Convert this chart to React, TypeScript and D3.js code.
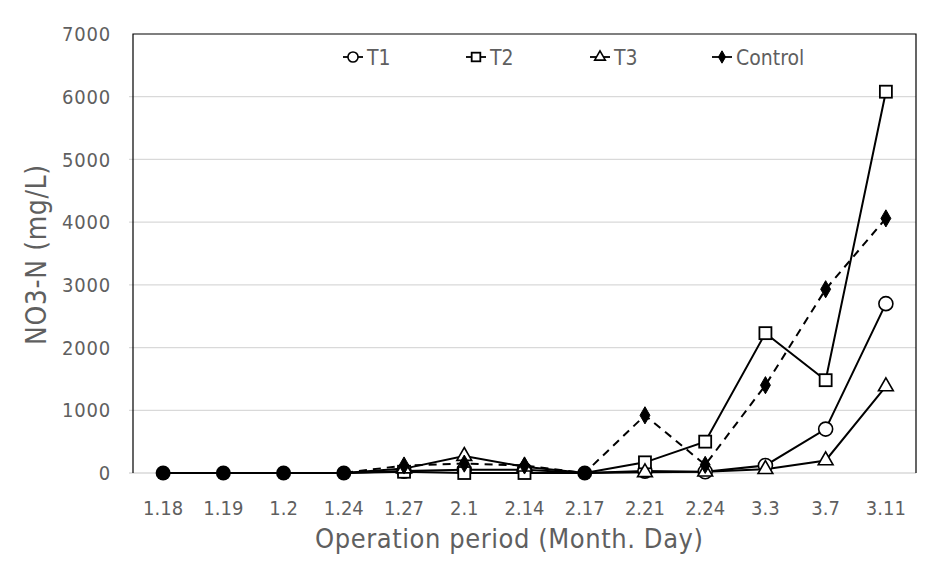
import * as d3 from 'd3';

const categories = ['1.18', '1.19', '1.2', '1.24', '1.27', '2.1', '2.14', '2.17', '2.21', '2.24', '3.3', '3.7', '3.11'];
const t1 = [0, 0, 0, 0, 30, 50, 50, 0, 30, 20, 120, 700, 2700];
const t2 = [0, 0, 0, 0, 20, 0, 0, 0, 170, 500, 2230, 1480, 6080];
const t3 = [0, 0, 0, 0, 70, 270, 100, 0, 10, 20, 60, 200, 1380];
const control = [0, 0, 0, 0, 120, 150, 120, 0, 920, 130, 1400, 2930, 4060];
const yTicks = [0, 1000, 2000, 3000, 4000, 5000, 6000, 7000];

const W = 928;
const H = 570;
const m = { left: 133, right: 916, top: 34, bottom: 473 };
const FONT = '"DejaVu Sans Condensed", "Liberation Sans Narrow", sans-serif';
const TEXT = '#5f5f5f';

type Kind = 'circle' | 'square' | 'triangle' | 'diamond';
const series: { name: string; values: number[]; kind: Kind; dashed: boolean }[] = [
  { name: 'T1', values: t1, kind: 'circle', dashed: false },
  { name: 'T2', values: t2, kind: 'square', dashed: false },
  { name: 'T3', values: t3, kind: 'triangle', dashed: false },
  { name: 'Control', values: control, kind: 'diamond', dashed: true },
];

function Marker({ kind, x, y, s = 1 }: { kind: Kind; x: number; y: number; s?: number }) {
  if (kind === 'circle') return <circle cx={x} cy={y} r={7 * s} fill="white" stroke="black" strokeWidth={1.6} />;
  if (kind === 'square') return <rect x={x - 6 * s} y={y - 6 * s} width={12 * s} height={12 * s} fill="white" stroke="black" strokeWidth={1.8} />;
  if (kind === 'triangle') {
    const p = d3.symbol(d3.symbolTriangle, 95 * s * s)();
    return <path d={p ?? ''} transform={`translate(${x},${y})`} fill="white" stroke="black" strokeWidth={1.6} />;
  }
  const p = d3.symbol(d3.symbolDiamond, 85 * s * s)();
  return <path d={p ?? ''} transform={`translate(${x},${y})`} fill="black" stroke="black" strokeWidth={1} />;
}

export default function App() {
  const x = d3.scaleBand<string>().domain(categories).range([m.left, m.right]);
  const y = d3.scaleLinear().domain([0, 7000]).range([m.bottom, m.top]);
  const cx = (c: string) => (x(c) ?? 0) + x.bandwidth() / 2;

  const line = d3.line<number>()
    .x((_, i) => cx(categories[i]))
    .y(d => y(d));

  // points where every series sits on the same value blur into one solid dot
  const together = categories.map((_, i) => series.every(s => s.values[i] === series[0].values[i]));

  const legendX = [353, 476, 600, 722];

  return (
    <svg width={W} height={H} style={{ position: 'absolute', left: 0, top: 0 }} fontFamily={FONT}>
      <rect width={W} height={H} fill="white" />
      {yTicks.map(t => (
        <g key={t}>
          {t > 0 && t < 7000 && (
            <line x1={m.left - 4} x2={m.right} y1={y(t)} y2={y(t)} stroke="#d9d9d9" strokeWidth={1.3} />
          )}
          <text x={111} y={y(t)} dy="0.36em" textAnchor="end" fontSize={20} fill={TEXT} letterSpacing={0.8}>{t}</text>
        </g>
      ))}
      <line x1={m.left - 4} x2={m.right} y1={m.bottom} y2={m.bottom} stroke="#d9d9d9" strokeWidth={1.3} />
      <path d={`M${m.left},${m.bottom}V${m.top}H${m.right}V${m.bottom}`} fill="none" stroke="black" strokeWidth={1.2} />

      {categories.map(c => (
        <text key={c} x={cx(c)} y={515} textAnchor="middle" fontSize={20} fill={TEXT}>{c}</text>
      ))}
      <text x={509} y={548} textAnchor="middle" fontSize={27} fill={TEXT} textLength={388} lengthAdjust="spacing">Operation period (Month. Day)</text>
      <text transform={`translate(46,${255}) rotate(-90)`} textAnchor="middle" fontSize={28} fill={TEXT} textLength={180} lengthAdjust="spacing">NO3-N (mg/L)</text>

      {series.map(s => (
        <path key={s.name} d={line(s.values) ?? ''} fill="none" stroke="black" strokeWidth={2}
          strokeDasharray={s.dashed ? '8,6' : undefined} />
      ))}
      {series.map(s => (
        <g key={s.name}>
          {s.values.map((v, i) => together[i] ? null : <Marker key={i} kind={s.kind} x={cx(categories[i])} y={y(v)} />)}
        </g>
      ))}
      {categories.map((c, i) => together[i] ? (
        <circle key={c} cx={cx(c)} cy={y(series[0].values[i])} r={7.5} fill="black" />
      ) : null)}

      {series.map((s, i) => (
        <g key={s.name}>
          <line x1={legendX[i] - 10} x2={legendX[i] + 10} y1={57} y2={57} stroke="black" strokeWidth={1.8} />
          <Marker kind={s.kind} x={legendX[i]} y={57} s={0.72} />
          <text x={legendX[i] + 14} y={57} dy="0.36em" fontSize={21} fill={TEXT}>{s.name}</text>
        </g>
      ))}
    </svg>
  );
}
